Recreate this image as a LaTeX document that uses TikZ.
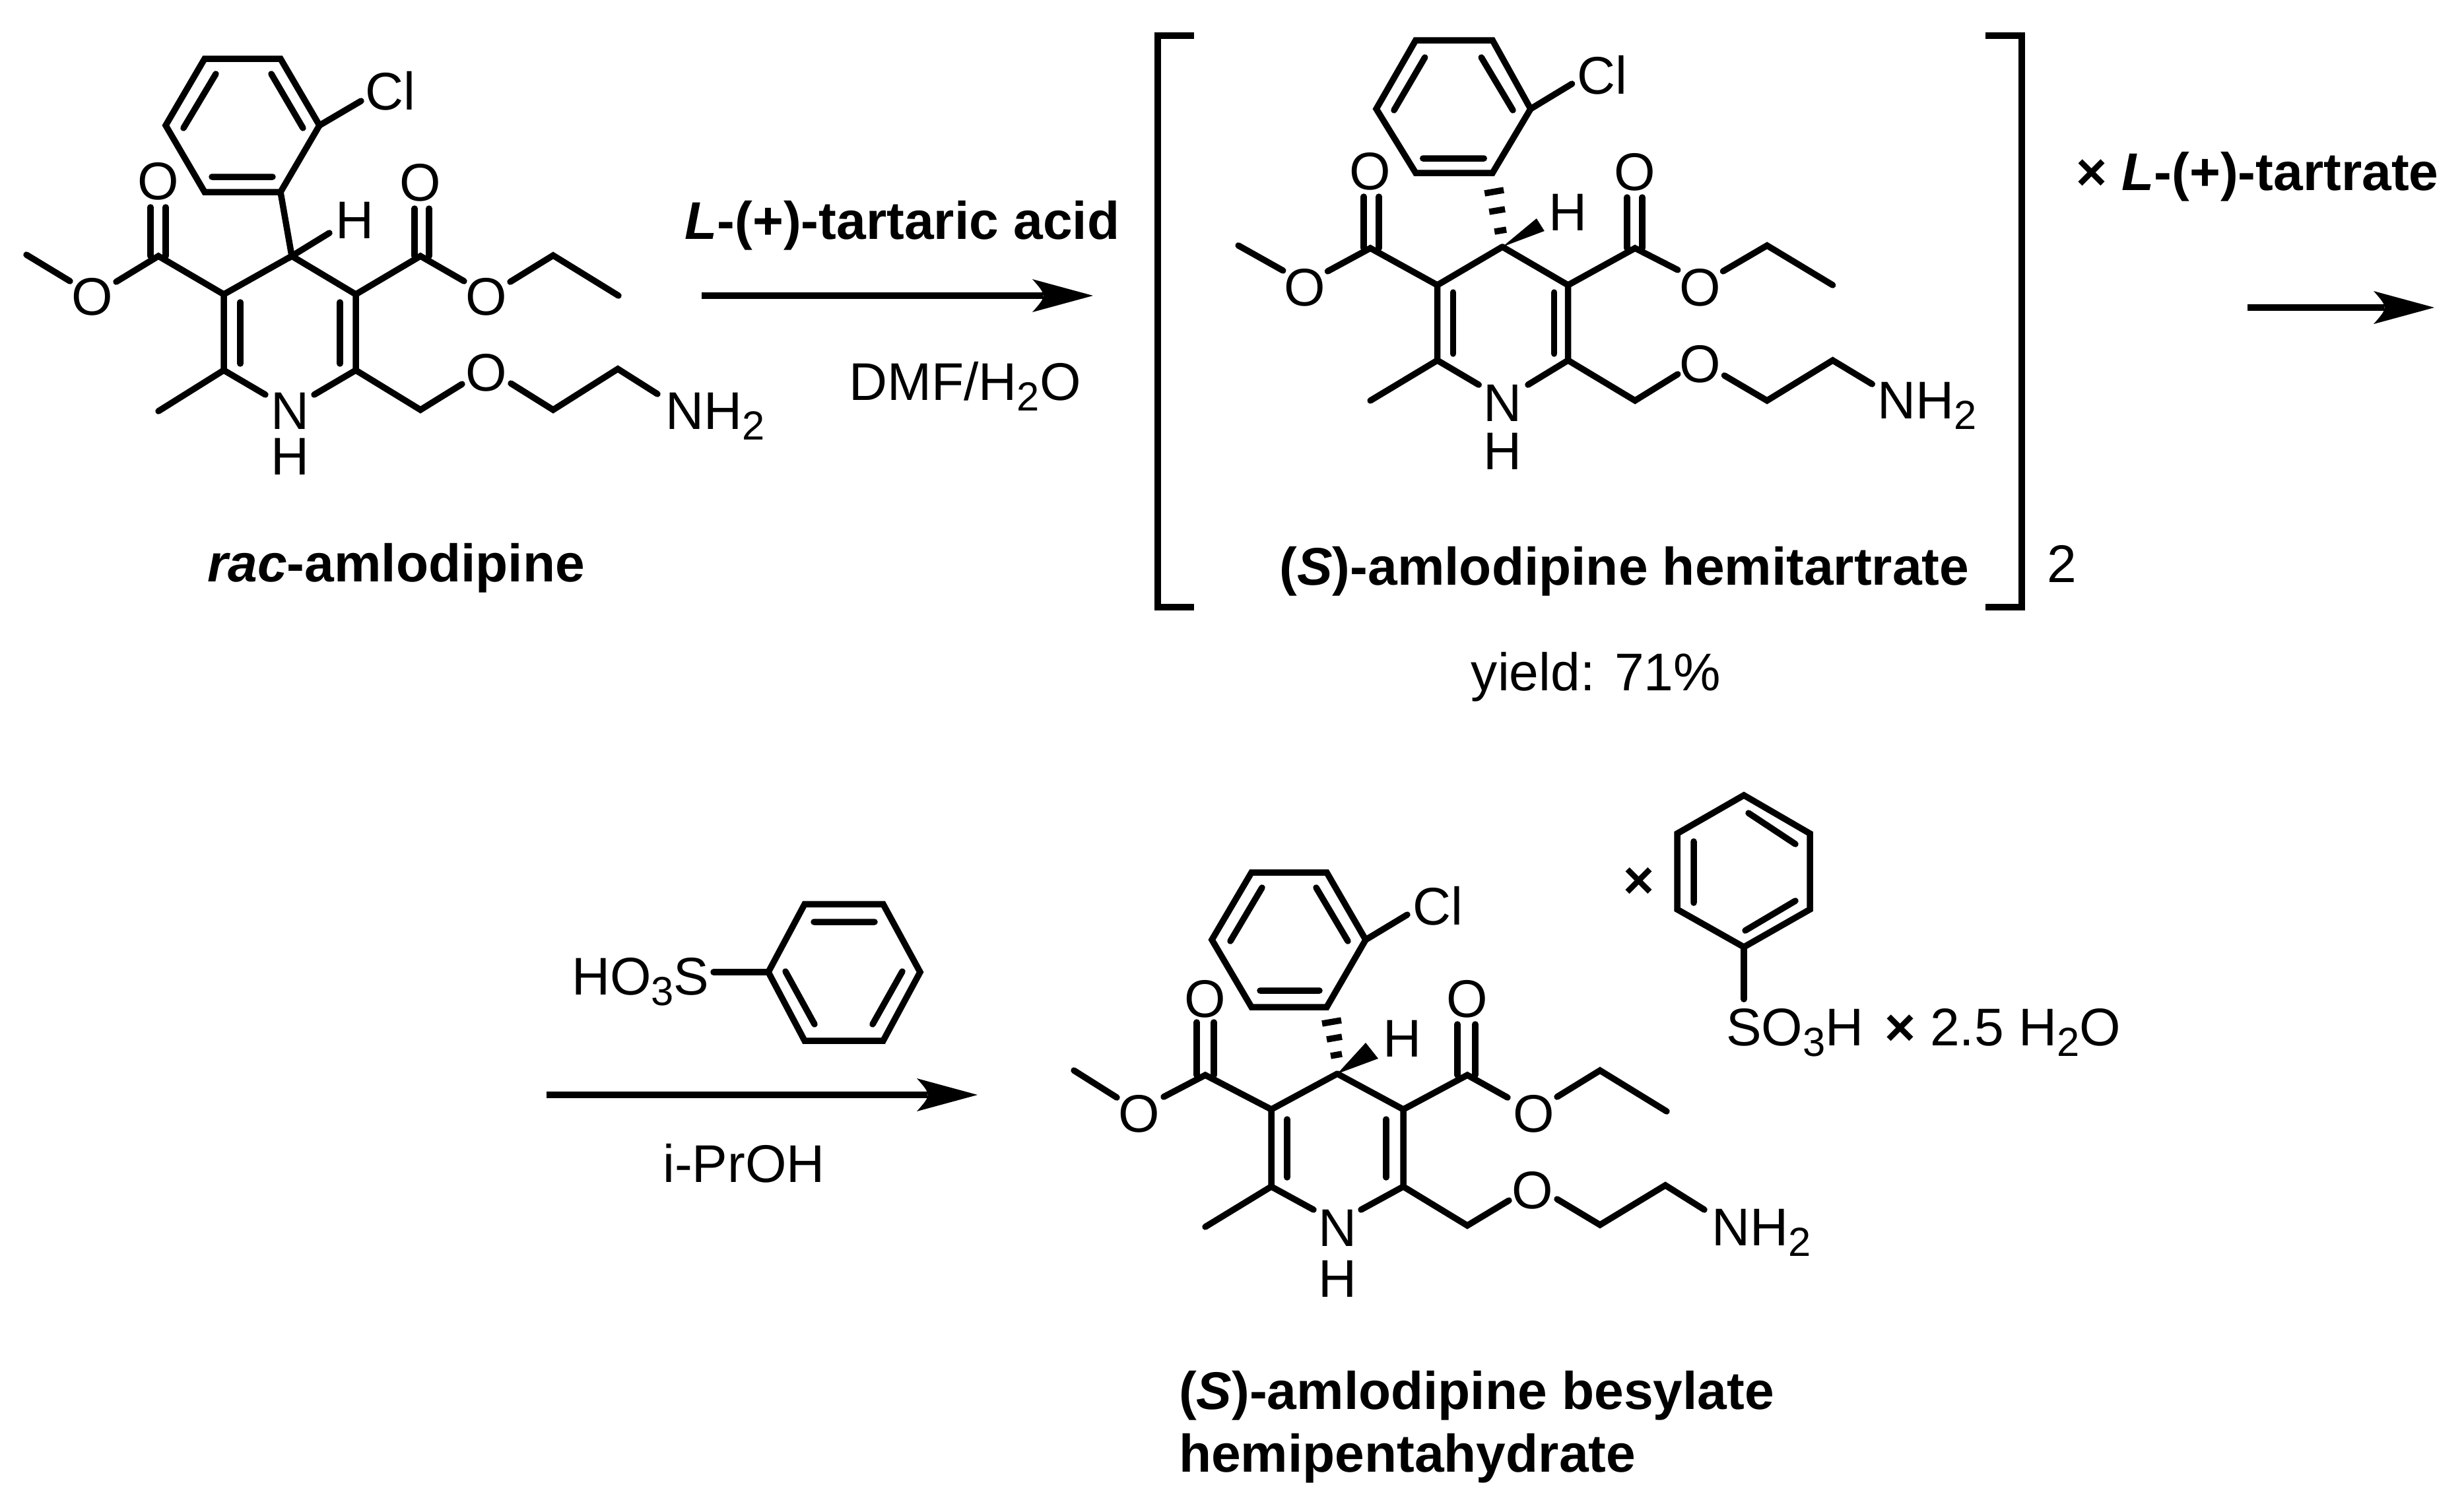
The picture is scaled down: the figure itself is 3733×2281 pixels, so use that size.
\documentclass[tikz,border=0pt]{standalone}
\usepackage{fontspec}
\setmainfont{Liberation Sans}
\tikzset{
  x=0.01cm,y=-0.01cm,
  bond/.style={line width=0.095cm,line cap=round,line join=miter,black},
  lab/.style={font=\fontsize{22.85}{26}\selectfont,inner sep=0pt,outer sep=0pt,text=black},
  labl/.style={lab,anchor=base west},
  labc/.style={lab,anchor=base},
  rxn/.style={line width=0.1cm,black},
  tip/.style={fill=black,draw=none}
}
\newcommand{\subsc}[1]{\raisebox{-0.21em}{\fontsize{17.5}{18}\selectfont #1}}
\begin{document}
\begin{tikzpicture}
\useasboundingbox (0,0) rectangle (3733,2281);
\fill[white] (0,0) rectangle (3733,2281);
% ===== rac-amlodipine =====
\draw[bond] (310,89)--(425,89)--(484,190)--(425,291)--(310,291)--(251,190)--cycle;
\draw[bond] (327,112)--(278,194) (411,112)--(459,194) (321,268)--(413,268);
\draw[bond] (484,190)--(547,153) (425,291)--(442,388)--(499,353);
\draw[bond] (442,388)--(339,446)--(339,561)--(402,598) (442,388)--(539,446)--(539,561)--(476,598);
\draw[bond] (364,458)--(364,551) (515,458)--(515,551);
\draw[bond] (339,561)--(240,623);
\draw[bond] (339,446)--(240,388)--(176,427) (106,426)--(40,386);
\draw[bond] (228,388)--(228,314) (251,388)--(251,314);
\draw[bond] (539,446)--(637,388)--(703,426) (773,427)--(838,387)--(937,448);
\draw[bond] (628,388)--(628,316) (650,388)--(650,316);
\draw[bond] (539,561)--(637,621)--(700,582) (774,581)--(838,621)--(936,559)--(996,597);
\node[labc,anchor=center] (a1) at (591,138) {Cl};
\node[labc,anchor=center] (a2) at (538,334) {H};
\node[labc,anchor=center] (a3) at (240,275) {O};
\node[labc,anchor=center] (a4) at (140,450) {O};
\node[labc,anchor=center] (a5) at (637,277) {O};
\node[labc,anchor=center] (a6) at (737,450) {O};
\node[labc,anchor=center] (a7) at (737,565) {O};
\node[labc,anchor=center] (a8) at (440,623) {N};
\node[labc,anchor=center] (a9) at (440,692) {H};
\node[labl] (a10) at (1008,650) {NH\subsc{2}};
\node[labc,font=\fontsize{22.85}{26}\selectfont\bfseries] (a11) at (600,881) {\textit{rac}-amlodipine};
% ===== arrow 1 =====
\coordinate (r1s) at (1063,448); \coordinate (r1e) at (1580,448);
\draw[rxn] (r1s)--(r1e);
\fill[tip] (1656,448)--(1564,423) .. controls (1586,448) .. (1564,473)--cycle;
\node[labc,font=\fontsize{22.85}{26}\selectfont\bfseries] (r1a) at (1367,362) {\textit{L}-(+)-tartaric acid};
\node[labc] (r1b) at (1462,606) {DMF/H\subsc{2}O};
% ===== (S)-amlodipine hemitartrate =====
\draw[bond,line cap=butt] (1809,54)--(1754,54)--(1754,920)--(1809,920);
\draw[bond,line cap=butt] (3008,54)--(3063,54)--(3063,920)--(3008,920);
\node[labc] (b0) at (3124,882) {2};
\begin{scope}[shift={(1700,0)},xscale=0.995,shift={(-1700,0)}]
\draw[bond] (2147,61)--(2264,61)--(2322,165)--(2264,262)--(2147,262)--(2087,165)--cycle;
\draw[bond] (2161,87)--(2114,167) (2247,87)--(2295,167) (2158,240)--(2251,240);
\draw[bond] (2322,165)--(2385,127);
\draw[bond] (2279,374)--(2180,432)--(2180,546)--(2243,583) (2279,374)--(2379,432)--(2379,546)--(2318,583);
\draw[bond] (2204,443)--(2204,536) (2358,443)--(2358,536);
\draw[bond] (2180,546)--(2078,607);
\draw[bond] (2180,432)--(2078,376)--(2013,411) (1945,410)--(1877,372);
\draw[bond] (2068,376)--(2068,298) (2091,376)--(2091,298);
\draw[bond] (2379,432)--(2481,376)--(2546,409) (2615,411)--(2682,372)--(2782,432);
\draw[bond] (2469,376)--(2469,299) (2492,376)--(2492,299);
\draw[bond] (2379,546)--(2481,607)--(2546,567) (2617,569)--(2682,607)--(2782,546)--(2842,582);
\fill[tip] (2279,374)--(2331,331)--(2343,350)--cycle;
\draw[bond,line cap=butt] (2252,293)--(2281,288) (2259,321)--(2283,317) (2267,351)--(2285,348);
\node[labc,anchor=center] (b1) at (2431,114) {Cl};
\node[labc,anchor=center] (b2) at (2379,322) {H};
\node[labc,anchor=center] (b3) at (2078,260) {O};
\node[labc,anchor=center] (b4) at (1978,436) {O};
\node[labc,anchor=center] (b5) at (2481,261) {O};
\node[labc,anchor=center] (b6) at (2580,436) {O};
\node[labc,anchor=center] (b7) at (2580,552) {O};
\node[labc,anchor=center] (b8) at (2279,611) {N};
\node[labc,anchor=center] (b9) at (2279,684) {H};
\node[labl] (b10) at (2850,634) {NH\subsc{2}};
\end{scope}
\node[labc,font=\fontsize{22.85}{26}\selectfont\bfseries] (b11) at (2461,886) {(\textit{S})-amlodipine hemitartrate};
\node[labc] (b12) at (2418,1046) {yield: 71\%};
% ===== arrow 2 =====
\coordinate (r2s) at (3405,466); \coordinate (r2e) at (3612,466);
\draw[rxn] (r2s)--(r2e);
\fill[tip] (3688,466)--(3596,441) .. controls (3618,466) .. (3596,491)--cycle;
\node[labc,font=\fontsize{22.85}{26}\selectfont\bfseries] (r2a) at (3420,288) {× \textit{L}-(+)-tartrate};
% ===== arrow 3 =====
\coordinate (r3s) at (828,1659); \coordinate (r3e) at (1405,1659);
\draw[rxn] (r3s)--(r3e);
\fill[tip] (1481,1659)--(1389,1634) .. controls (1411,1659) .. (1389,1684)--cycle;
\node[labc] (r3b) at (1127,1791) {i-PrOH};
\draw[bond] (1219,1370)--(1338,1370)--(1394,1473)--(1338,1577)--(1219,1577)--(1164,1473)--cycle;
\draw[bond] (1233,1397)--(1325,1397) (1190,1472)--(1234,1552) (1367,1472)--(1322,1552);
\draw[bond] (1164,1473)--(1081,1473);
\node[labl] (r3a) at (866,1507) {HO\subsc{3}S};
% ===== (S)-amlodipine besylate =====
\draw[bond] (1896,1322)--(2010,1322)--(2069,1424)--(2010,1526)--(1896,1526)--(1836,1424)--cycle;
\draw[bond] (1912,1345)--(1864,1426) (1994,1345)--(2042,1426) (1909,1501)--(1999,1501);
\draw[bond] (2069,1424)--(2132,1386);
\draw[bond] (2026,1627)--(1926,1681)--(1926,1798)--(1990,1833) (2026,1627)--(2126,1681)--(2126,1798)--(2062,1833);
\draw[bond] (1950,1696)--(1950,1784) (2100,1696)--(2100,1784);
\draw[bond] (1926,1798)--(1826,1859);
\draw[bond] (1926,1681)--(1826,1629)--(1763,1662) (1692,1663)--(1627,1622);
\draw[bond] (1813,1629)--(1813,1549) (1839,1629)--(1839,1549);
\draw[bond] (2126,1681)--(2223,1629)--(2284,1663) (2359,1662)--(2424,1622)--(2525,1684);
\draw[bond] (2208,1629)--(2208,1552) (2235,1629)--(2235,1552);
\draw[bond] (2126,1798)--(2223,1857)--(2286,1819) (2359,1817)--(2424,1856)--(2523,1796)--(2582,1833);
\fill[tip] (2026,1627)--(2069,1580)--(2088,1604)--cycle;
\draw[bond,line cap=butt] (2003,1551)--(2032,1546) (2010,1575)--(2033,1571) (2016,1600)--(2033,1597);
\node[labc,anchor=center] (c1) at (2178,1373) {Cl};
\node[labc,anchor=center] (c2) at (2124,1574) {H};
\node[labc,anchor=center] (c3) at (1826,1514) {O};
\node[labc,anchor=center] (c4) at (1726,1688) {O};
\node[labc,anchor=center] (c5) at (2223,1514) {O};
\node[labc,anchor=center] (c6) at (2324,1688) {O};
\node[labc,anchor=center] (c7) at (2322,1804) {O};
\node[labc,anchor=center] (c8) at (2026,1861) {N};
\node[labc,anchor=center] (c9) at (2026,1938) {H};
\node[labl] (c10) at (2593,1887) {NH\subsc{2}};
\node[labl,font=\fontsize{22.85}{26}\selectfont\bfseries] (c11) at (1786,2135) {(\textit{S})-amlodipine besylate};
\node[labl,font=\fontsize{22.85}{26}\selectfont\bfseries] (c12) at (1786,2230) {hemipentahydrate};
\node[lab,font=\fontsize{22.85}{26}\selectfont\bfseries] (c13) at (2483,1338) {×};
\draw[bond] (2642,1205)--(2742,1263)--(2742,1378)--(2642,1435)--(2541,1378)--(2541,1263)--cycle;
\draw[bond] (2649,1232)--(2720,1279) (2566,1275)--(2566,1368) (2644,1410)--(2720,1365);
\draw[bond] (2642,1435)--(2642,1514);
\node[labl] (c14) at (2615,1584) {SO\subsc{3}H};
\node[labl] (c15) at (2855,1584) {\textbf{×} 2.5 H\subsc{2}O};
\end{tikzpicture}
\end{document}
